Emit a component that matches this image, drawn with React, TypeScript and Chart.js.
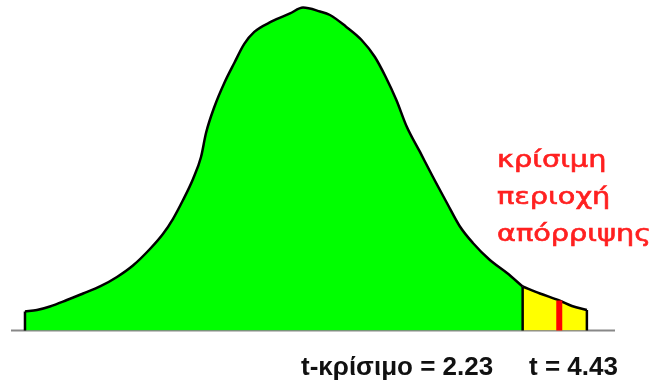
import React, { useEffect, useRef } from "react";
import { Chart, registerables } from "chart.js";

Chart.register(...registerables);

// Critical value and observed statistic
const T_CRIT = 2.23;
const T_STAT = 4.43;

// Schematic density curve (t position, height)
const curveT = [
  -27.68, -26.96, -26.18, -25.16, -24.19, -23.17, -22.15, -21.19, -20.17, -19.39,
  -18.79, -18.18, -17.58, -17.1, -16.8, -16.3, -15.7, -15.1, -14.5, -13.9,
  -12.85, -11.75, -10.97, -9.95, -9.35, -8.4, -7.45, -6.65, -6.0, -5.36,
  -4.74, -3.94, -3.16, -2.32, -1.54, -0.76, 0.26, 1.29, 2.23, 3.27,
  4.43, 5.19, 6.09,
];
const curveDensity = [
  0.0236, 0.0254, 0.0298, 0.0378, 0.0459, 0.0546, 0.0664, 0.0806, 0.1011, 0.1197,
  0.1383, 0.1619, 0.188, 0.2153, 0.245, 0.2773, 0.3071, 0.3319, 0.3555, 0.3704,
  0.3834, 0.3933, 0.4007, 0.3958, 0.3914, 0.3772, 0.3604, 0.3393, 0.3145, 0.286,
  0.2531, 0.2215, 0.1904, 0.1582, 0.129, 0.1086, 0.0875, 0.0713, 0.0546, 0.0459,
  0.0372, 0.0304, 0.0254,
];

const X_MIN = -28.52;
const X_MAX = 7.78;
const Y_MAX = 0.41;

const regionLabel = ["κρίσιμη", "περιοχή", "απόρριψης"];
const critLabel = `t-κρίσιμο = ${T_CRIT.toFixed(2)}`;
const statLabel = `t = ${T_STAT.toFixed(2)}`;

const heightAt = (t: number) => curveDensity[curveT.indexOf(t)];
const vertical = (t: number, h: number) => [
  { x: t, y: 0 },
  { x: t, y: h },
];

const textPlugin = {
  id: "annotations",
  afterDraw(chart: Chart) {
    const ctx = chart.ctx;
    ctx.save();
    ctx.textBaseline = "alphabetic";
    ctx.textAlign = "left";
    // red caption, set in a widened sans face
    ctx.fillStyle = "#ff2020";
    ctx.strokeStyle = "#ff2020";
    ctx.lineWidth = 0.6;
    ctx.font = '23px "DejaVu Sans"';
    const baselines = [167, 204, 241];
    regionLabel.forEach((s, i) => {
      ctx.save();
      ctx.translate(497, baselines[i]);
      ctx.scale(1.25, 1);
      ctx.fillText(s, 0, 0);
      ctx.strokeText(s, 0, 0);
      ctx.restore();
    });
    ctx.fillStyle = "#111";
    ctx.font = 'bold 26px "Liberation Sans"';
    ctx.fillText(critLabel, 301, 375);
    ctx.fillText(statLabel, 529, 375);
    ctx.restore();
  },
};

export default function App() {
  const ref = useRef<HTMLCanvasElement>(null);

  useEffect(() => {
    if (!ref.current) return;
    const pts = curveT.map((x, i) => ({ x, y: curveDensity[i] }));
    const left = pts.filter((p) => p.x <= T_CRIT);
    const right = pts.filter((p) => p.x >= T_CRIT);
    const first = curveT[0];
    const last = curveT[curveT.length - 1];

    const edge = (data: { x: number; y: number }[], color = "#000", width = 2.5) => ({
      type: "line" as const,
      data,
      borderColor: color,
      borderWidth: width,
      pointRadius: 0,
      fill: false,
      clip: false as const,
    });

    const area = (data: { x: number; y: number }[], color: string) => ({
      data,
      borderColor: "#000",
      borderWidth: 2.5,
      backgroundColor: color,
      fill: "origin",
      pointRadius: 0,
      cubicInterpolationMode: "monotone",
      clip: false,
    });

    // earlier datasets are painted on top
    const chart = new Chart(ref.current, {
      type: "line",
      data: {
        datasets: [
          edge(vertical(T_STAT, heightAt(T_STAT)), "#ff0000", 6),
          edge(vertical(first, heightAt(first))),
          edge(vertical(T_CRIT, heightAt(T_CRIT))),
          edge(vertical(last, heightAt(last))),
          area(right, "#ffff00"),
          area(left, "#00ff00"),
          edge(
            [
              { x: X_MIN, y: 0 },
              { x: X_MAX, y: 0 },
            ],
            "#888",
            2
          ),
        ] as any,
      },
      options: {
        animation: false,
        responsive: false,
        events: [],
        layout: { padding: { left: 11, right: 37, top: 0, bottom: 51.5 } },
        plugins: { legend: { display: false }, tooltip: { enabled: false } },
        scales: {
          x: { type: "linear", min: X_MIN, max: X_MAX, display: false },
          y: { type: "linear", min: 0, max: Y_MAX, display: false },
        },
      },
      plugins: [textPlugin],
    });
    return () => chart.destroy();
  }, []);

  return (
    <div style={{ position: "absolute", left: 0, top: 0, width: 652, height: 382, background: "#fff" }}>
      <canvas ref={ref} width={652} height={382} />
    </div>
  );
}
